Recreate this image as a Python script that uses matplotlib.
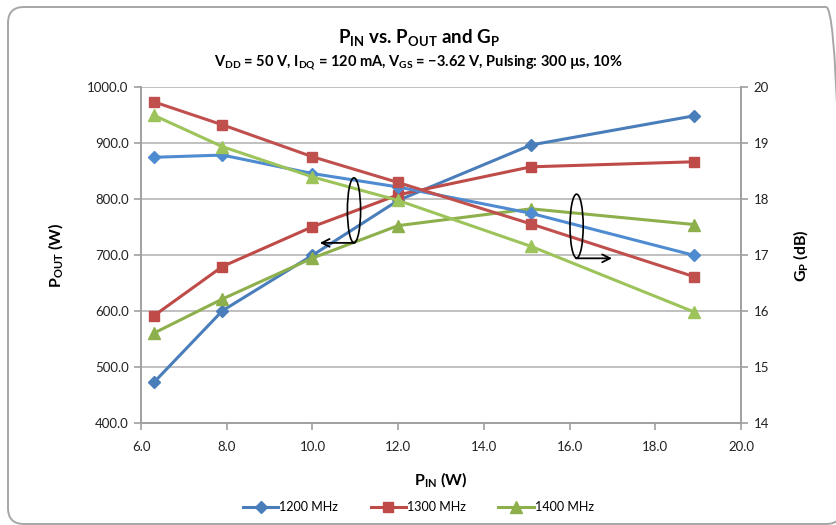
import matplotlib
matplotlib.use("Agg")
import matplotlib.pyplot as plt
from matplotlib.patches import Ellipse, FancyBboxPatch
from matplotlib.ticker import FormatStrFormatter, MultipleLocator

plt.rcParams['font.family'] = ['Lato', 'DejaVu Sans']
plt.rcParams['mathtext.fontset'] = 'custom'
plt.rcParams['mathtext.rm'] = 'Lato'
plt.rcParams['mathtext.bf'] = 'Lato:bold'
plt.rcParams['mathtext.it'] = 'Lato:italic'

# ---- data ----
p_in = [6.3, 7.9, 10.0, 12.0, 15.1, 18.9]
series = ["1200 MHz", "1300 MHz", "1400 MHz"]
pout_1200 = [473, 601, 700, 798, 897, 949]
pout_1300 = [592, 680, 751, 808, 858, 867]
pout_1400 = [561, 622, 695, 753, 783, 755]
gp_1200 = [18.75, 18.79, 18.46, 18.22, 17.75, 17.0]
gp_1300 = [19.74, 19.33, 18.76, 18.30, 17.56, 16.62]
gp_1400 = [19.50, 18.94, 18.40, 17.98, 17.16, 15.99]
x_ticks = [6.0, 8.0, 10.0, 12.0, 14.0, 16.0, 18.0, 20.0]

pout_colors = ['#4A7EBB', '#BE4B48', '#8DB04C']
gp_colors = ['#4F8BD0', '#C0504D', '#9DC45A']
markers = ['D', 's', '^']
msizes = [6, 7, 8]

W, H = 837, 525
fig = plt.figure(figsize=(W / 100, H / 100), dpi=100)

# rounded border (in inches, runs slightly off the right/bottom edge)
border = FancyBboxPatch((0.08, 0.01), 8.34, 5.17,
                        boxstyle="round,pad=0,rounding_size=0.16",
                        transform=fig.dpi_scale_trans, facecolor='none',
                        edgecolor='#A6A6A6', lw=1.4, zorder=-1)
fig.patches.append(border)

ax = fig.add_axes([141 / W, 1 - 423.3 / H, 600 / W, 336 / H])
ax.set_facecolor('none')
ax2 = ax.twinx()

pouts = [pout_1200, pout_1300, pout_1400]
gps = [gp_1200, gp_1300, gp_1400]
handles = []
for i in range(3):
    h, = ax.plot(p_in, pouts[i], color=pout_colors[i], marker=markers[i],
                 ms=msizes[i], lw=2.2, label=series[i], zorder=3)
    handles.append(h)
for i in range(3):
    ax2.plot(p_in, gps[i], color=gp_colors[i], marker=markers[i],
             ms=msizes[i], lw=2.2, zorder=3)

ax.set_xlim(6, 20)
ax.set_ylim(400, 1000)
ax2.set_ylim(14, 20)
ax.set_xticks(x_ticks)
ax.yaxis.set_major_locator(MultipleLocator(100))
ax2.yaxis.set_major_locator(MultipleLocator(1))
ax.xaxis.set_major_formatter(FormatStrFormatter('%.1f'))
ax.yaxis.set_major_formatter(FormatStrFormatter('%.1f'))
ax2.yaxis.set_major_formatter(FormatStrFormatter('%d'))

ax.grid(axis='y', color='#B5B5B5', lw=1.2)
ax.set_axisbelow(True)
gray = '#A0A0A0'
for a in (ax, ax2):
    a.spines['top'].set_visible(False)
    for s in ('left', 'right', 'bottom'):
        a.spines[s].set_color(gray)
        a.spines[s].set_linewidth(1.2)
    a.tick_params(colors=gray, labelcolor='#222222', labelsize=9.5,
                  length=5, width=1.2, direction='out')
ax.tick_params(axis='x', pad=8)
ax.tick_params(axis='y', pad=4)
ax2.tick_params(axis='y', pad=4)

ax.set_xlabel(r'$\mathbf{P}_\mathbf{IN}$ (W)', fontsize=11.5,
              fontweight='bold', labelpad=12)
ax.set_ylabel(r'$\mathbf{P}_\mathbf{OUT}$ (W)', fontsize=11.5,
              fontweight='bold', labelpad=16)
ax2.set_ylabel(r'$\mathbf{G}_\mathbf{P}$ (dB)', fontsize=11.5,
               fontweight='bold', labelpad=16, rotation=90)

fig.text(0.5, 1 - 38 / H,
         r'$\mathbf{P}_\mathbf{IN}$ vs. $\mathbf{P}_\mathbf{OUT}$ and $\mathbf{G}_\mathbf{P}$',
         ha='center', va='center', fontsize=13.5, fontweight='bold')
fig.text(0.5, 1 - 62 / H,
         r'$\mathbf{V}_\mathbf{DD}$ = 50 V, $\mathbf{I}_\mathbf{DQ}$ = 120 mA, '
         r'$\mathbf{V}_\mathbf{GS}$ = ' + '\u22123.62 V, Pulsing: 300 \u00b5s, 10%',
         ha='center', va='center', fontsize=10.5, fontweight='bold')

# annotation ellipses and arrows
e1 = Ellipse((0.355, 0.634), 0.022, 0.193, transform=ax.transAxes,
             fill=False, ec='black', lw=1.2, zorder=5)
e2 = Ellipse((0.726, 0.587), 0.022, 0.19, transform=ax.transAxes,
             fill=False, ec='black', lw=1.2, zorder=5)
ax2.add_patch(e1)
ax2.add_patch(e2)
ax2.annotate('', xy=(0.298, 0.537), xytext=(0.356, 0.537),
             xycoords='axes fraction', textcoords='axes fraction',
             arrowprops=dict(arrowstyle='->', color='black', lw=1.3,
                             shrinkA=0, shrinkB=0, mutation_scale=14))
ax2.annotate('', xy=(0.785, 0.491), xytext=(0.725, 0.491),
             xycoords='axes fraction', textcoords='axes fraction',
             arrowprops=dict(arrowstyle='->', color='black', lw=1.3,
                             shrinkA=0, shrinkB=0, mutation_scale=14))

fig.legend(handles=handles, labels=series, loc='center',
           bbox_to_anchor=(0.5, 1 - 507 / H), ncol=3, frameon=False,
           fontsize=9, handlelength=2.8, handletextpad=0.1,
           columnspacing=2.6)

fig.savefig('out.png', dpi=100)
